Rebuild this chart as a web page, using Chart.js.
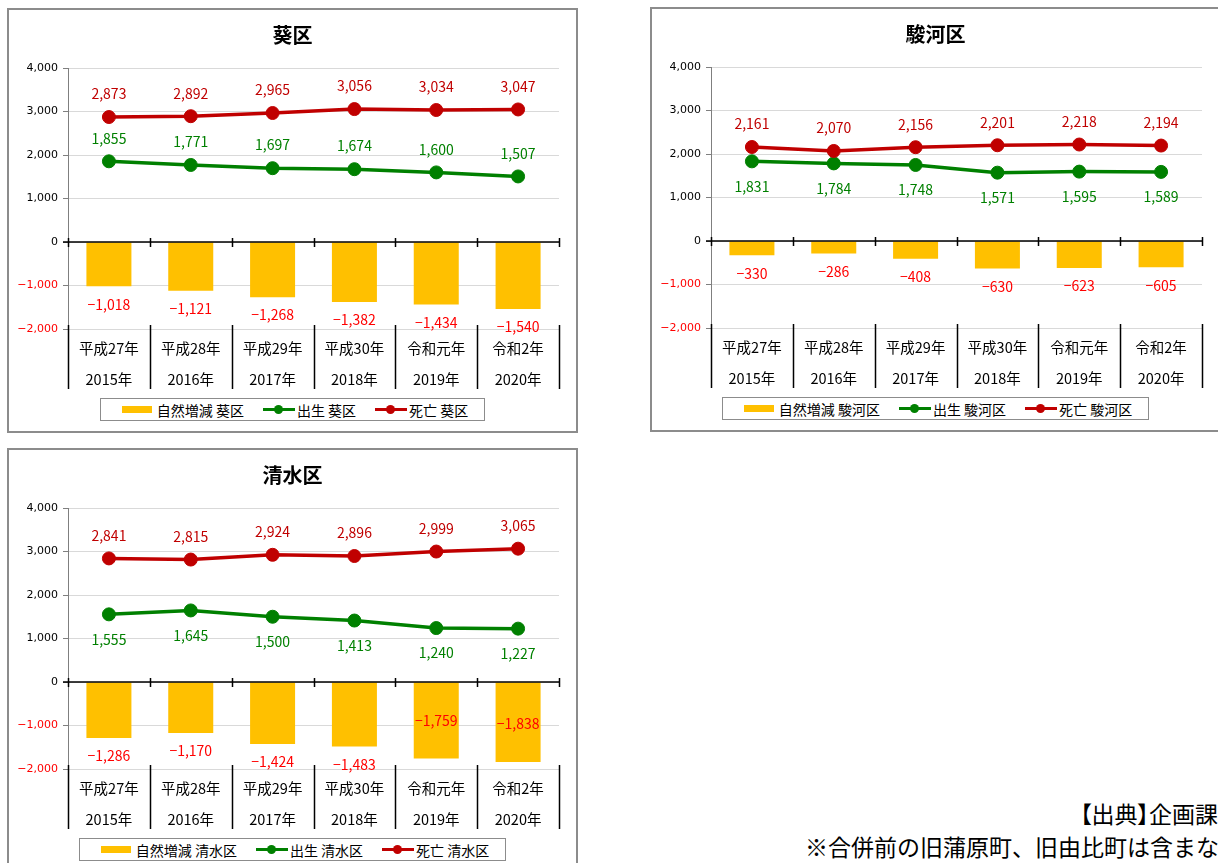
<!DOCTYPE html>
<html lang="ja">
<head>
<meta charset="utf-8">
<title>区別 出生・死亡・自然増減</title>
<script src="https://cdn.jsdelivr.net/npm/chart.js@4/dist/chart.umd.min.js"></script>
<style>
  html, body { margin: 0; padding: 0; background: #fff; overflow: hidden; }
  #page {
    width: 1218px; height: 863px; position: relative; overflow: hidden;
    font-family: "Noto Sans CJK JP", "Noto Sans", sans-serif; color: #000;
  }
  .panel {
    position: absolute; width: 571px; height: 425px; box-sizing: border-box;
    border: 2px solid #8c8c8c; background: #fff;
  }
  .panel canvas { position: absolute; left: 0; top: 0; }
  #aoi { left: 7px; top: 8px; }
  /* right edge of this panel runs off the page */
  #suruga { left: 650px; top: 7px; border-right: none; }
  #shimizu { left: 7px; top: 448px; }

  .legend-row {
    position: absolute; left: 0; top: 388px; width: 567px;
    display: flex; justify-content: center;
  }
  .legend {
    height: 23px; box-sizing: border-box; border: 1px solid #8c8c8c; background: #fff;
    display: flex; align-items: center; padding: 0 16px 0 21px;
    white-space: nowrap; font-size: 14px; line-height: 1;
  }
  .key-bar { width: 30px; height: 7px; background: #FFC000; margin-right: 5px; }
  .key-line { width: 32px; height: 3px; position: relative; margin-right: 2px; }
  .key-line::after {
    content: ''; position: absolute; left: 11px; top: -3px;
    width: 9px; height: 9px; border-radius: 50%; background: inherit;
  }
  .legend .gap { margin-left: 19px; }

  .note { position: absolute; font-size: 23px; line-height: 28px; white-space: nowrap; }
  #source { right: 0; top: 799px; font-feature-settings: "palt"; }
  #remark { left: 805px; top: 832px; }
</style>
</head>
<body>
<div id="page">
  <div class="panel" id="aoi"><canvas width="567" height="421"></canvas></div>
  <div class="panel" id="suruga"><canvas width="567" height="421"></canvas></div>
  <div class="panel" id="shimizu"><canvas width="567" height="421"></canvas></div>

  <div class="note" id="source">【出典】企画課</div>
  <div class="note" id="remark">※合併前の旧蒲原町、旧由比町は含まない。</div>
</div>

<script>
const eraLabels = ['平成27年', '平成28年', '平成29年', '平成30年', '令和元年', '令和2年'];
const yearLabels = ['2015年', '2016年', '2017年', '2018年', '2019年', '2020年'];
const yTickValues = [-2000, -1000, 0, 1000, 2000, 3000, 4000];

// 葵区
const aoiNatural = [-1018, -1121, -1268, -1382, -1434, -1540];
const aoiBirths = [1855, 1771, 1697, 1674, 1600, 1507];
const aoiDeaths = [2873, 2892, 2965, 3056, 3034, 3047];

// 駿河区
const surugaNatural = [-330, -286, -408, -630, -623, -605];
const surugaBirths = [1831, 1784, 1748, 1571, 1595, 1589];
const surugaDeaths = [2161, 2070, 2156, 2201, 2218, 2194];

// 清水区
const shimizuNatural = [-1286, -1170, -1424, -1483, -1759, -1838];
const shimizuBirths = [1555, 1645, 1500, 1413, 1240, 1227];
const shimizuDeaths = [2841, 2815, 2924, 2896, 2999, 3065];

const FONT = '"Noto Sans CJK JP", "Noto Sans", sans-serif';
const NUM_FONT = '"DejaVu Sans", "Noto Sans", sans-serif';
const BAR = '#FFC000';
const GREEN = '#008000';
const RED = '#C00000';

Chart.defaults.font.family = FONT;

// 3,000 / −1,000 style
function fmt(v) {
  const s = Math.abs(v).toLocaleString('en-US');
  return v < 0 ? '\u2212' + s : s;
}

// value labels: line labels above (or below) the markers, bar labels past the bar end
const valueLabels = {
  id: 'valueLabels',
  afterDatasetsDraw(chart) {
    const { ctx, chartArea } = chart;
    ctx.save();
    ctx.font = '14px ' + FONT;
    ctx.textAlign = 'center';
    ctx.textBaseline = 'middle';
    chart.data.datasets.forEach((ds, i) => {
      const meta = chart.getDatasetMeta(i);
      meta.data.forEach((el, j) => {
        let y;
        if (ds.type === 'bar') {
          y = el.y + 18;
          // no room under the plot -> put it inside the bar
          if (y > chartArea.bottom + 2) y = el.y - 38;
        } else if (ds.labelSide === 'below') {
          y = el.y + 25;
        } else {
          y = el.y - 23;
        }
        ctx.fillStyle = ds.valueColor;
        ctx.fillText(fmt(ds.data[j]), el.x, y);
      });
    });
    ctx.restore();
  }
};

// zero line with category ticks, and the dividers between the two-row category labels
const categoryFrame = {
  id: 'categoryFrame',
  afterDatasetsDraw(chart) {
    const { ctx, chartArea, scales: { x, y } } = chart;
    const n = chart.data.labels.length;
    const step = x.getPixelForValue(1) - x.getPixelForValue(0);
    const first = x.getPixelForValue(0) - step / 2;
    const y0 = y.getPixelForValue(0);
    ctx.save();
    ctx.strokeStyle = '#000';
    ctx.lineWidth = 1.5;
    ctx.beginPath();
    ctx.moveTo(chartArea.left - 5, y0);
    ctx.lineTo(chartArea.right, y0);
    for (let i = 0; i <= n; i++) {
      const ex = Math.round(first + i * step) + 0.5;
      ctx.moveTo(ex, y0 - 4);
      ctx.lineTo(ex, y0 + 5);
      ctx.moveTo(ex, chartArea.bottom - 4);
      ctx.lineTo(ex, chartArea.bottom + 60);
    }
    ctx.stroke();
    ctx.restore();
  }
};

function buildLegend(panel, chart) {
  const row = document.createElement('div');
  row.className = 'legend-row';
  const box = document.createElement('div');
  box.className = 'legend';
  chart.data.datasets.forEach((ds, i) => {
    const key = document.createElement('span');
    if (ds.type === 'bar') {
      key.className = 'key-bar';
    } else {
      key.className = 'key-line';
      key.style.background = ds.borderColor;
    }
    if (i > 0) key.classList.add('gap');
    const text = document.createElement('span');
    text.textContent = ds.label;
    box.appendChild(key);
    box.appendChild(text);
  });
  row.appendChild(box);
  panel.appendChild(row);
}

function makePanel(id, ward, natural, births, deaths, birthSide) {
  const panel = document.getElementById(id);
  const canvas = panel.querySelector('canvas');
  const chart = new Chart(canvas, {
    data: {
      labels: eraLabels.map((era, i) => [era, yearLabels[i]]),
      datasets: [
        {
          type: 'bar', label: '自然増減 ' + ward, data: natural,
          backgroundColor: BAR, barPercentage: 0.55, categoryPercentage: 1,
          order: 3, valueColor: '#FF0000'
        },
        {
          type: 'line', label: '出生 ' + ward, data: births,
          borderColor: GREEN, backgroundColor: GREEN, borderWidth: 3.5,
          pointRadius: 6.5, pointHoverRadius: 6.5, pointBorderWidth: 1, tension: 0,
          order: 2, valueColor: GREEN, labelSide: birthSide
        },
        {
          type: 'line', label: '死亡 ' + ward, data: deaths,
          borderColor: RED, backgroundColor: RED, borderWidth: 3.5,
          pointRadius: 6.5, pointHoverRadius: 6.5, pointBorderWidth: 1, tension: 0,
          order: 1, valueColor: '#C00000', labelSide: 'above'
        }
      ]
    },
    options: {
      responsive: false,
      animation: false,
      devicePixelRatio: 1,
      layout: { padding: { left: 0, right: 0, top: 0, bottom: 38 } },
      plugins: {
        legend: { display: false },
        tooltip: { enabled: false },
        title: {
          display: true, text: ward, color: '#000',
          font: { family: FONT, size: 20, weight: 'bold' },
          padding: { top: 13, bottom: 21 }
        }
      },
      scales: {
        x: {
          offset: true,
          grid: { display: false, drawTicks: false },
          border: { display: false },
          ticks: {
            padding: 4, autoSkip: false, maxRotation: 0, minRotation: 0, color: '#000',
            font: { size: 14.5, lineHeight: 31 / 14.5 }
          },
          afterFit(s) { s.height = 64; }
        },
        y: {
          min: -2000, max: 4000,
          afterBuildTicks(s) { s.ticks = yTickValues.map(value => ({ value })); },
          afterFit(s) { s.width = 59; },
          grid: { color: '#d9d9d9', tickColor: '#7f7f7f', tickLength: 5 },
          border: { color: '#7f7f7f', width: 1 },
          ticks: {
            padding: 5,
            font: { family: NUM_FONT, size: 11 },
            color: c => (c.tick && c.tick.value < 0 ? '#FF0000' : '#000000'),
            callback: v => fmt(v)
          }
        },
        // empty right-hand margin so the plot ends short of the frame
        margin: {
          position: 'right',
          grid: { display: false },
          border: { display: false },
          ticks: { display: false },
          afterFit(s) { s.width = 17; }
        }
      }
    },
    plugins: [categoryFrame, valueLabels]
  });
  buildLegend(panel, chart);
  return chart;
}

makePanel('aoi', '葵区', aoiNatural, aoiBirths, aoiDeaths, 'above');
makePanel('suruga', '駿河区', surugaNatural, surugaBirths, surugaDeaths, 'below');
makePanel('shimizu', '清水区', shimizuNatural, shimizuBirths, shimizuDeaths, 'below');
</script>
</body>
</html>
